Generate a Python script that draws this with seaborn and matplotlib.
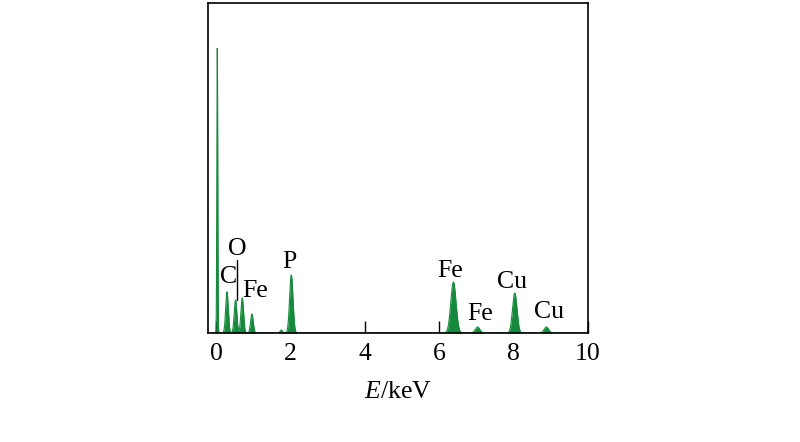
import numpy as np
import pandas as pd
import matplotlib
matplotlib.use('Agg')
import matplotlib.pyplot as plt
import seaborn as sns

# peak positions (keV), heights (a.u.), widths (keV)
peak_pos = [0.03, 0.29, 0.52, 0.70, 0.96, 1.75, 2.02, 6.38, 7.03, 8.03, 8.88]
peak_h = [285, 41, 33, 35, 19, 3, 58, 51, 6, 40, 6]
peak_w = [0.012, 0.035, 0.035, 0.035, 0.035, 0.03, 0.045, 0.07, 0.06, 0.06, 0.06]

labels = ['C', 'O', 'Fe', 'P', 'Fe', 'Fe', 'Cu', 'Cu']
label_x = [0.33, 0.57, 1.04, 1.97, 6.28, 7.1, 7.95, 8.94]
label_y = [50, 78, 36, 65, 56, 13, 45, 15]

energy = np.linspace(-0.2, 10, 6000)
counts = np.zeros_like(energy)
for p, h, w in zip(peak_pos, peak_h, peak_w):
    counts += h * np.exp(-0.5 * ((energy - p) / w) ** 2)
df = pd.DataFrame({'E': energy, 'counts': counts})

sns.set_style('ticks')
plt.rcParams['font.family'] = ['Liberation Serif', 'DejaVu Serif']
plt.rcParams['mathtext.fontset'] = 'custom'
plt.rcParams['mathtext.it'] = 'Liberation Serif:italic'
plt.rcParams['mathtext.rm'] = 'Liberation Serif'
plt.rcParams['text.color'] = 'black'
plt.rcParams['axes.labelcolor'] = 'black'
plt.rcParams['xtick.color'] = 'black'

fig = plt.figure(figsize=(8, 4.42), dpi=100)
ax = fig.add_axes([0.26, 0.2466, 0.475, 0.7464])
green = '#17893c'
sns.lineplot(data=df, x='E', y='counts', color=green, lw=0.8, ax=ax)
ax.fill_between(df['E'], 0, df['counts'], color=green, lw=0)

for t, x, y in zip(labels, label_x, label_y):
    ax.text(x, y, t, fontsize=18.5, ha='center', va='baseline', color='black')
ax.plot([0.56, 0.56], [33, 73], color='black', lw=1)

ax.set_xlim(-0.22, 9.93)
ax.set_ylim(0, 330)
ax.set_xticks([0, 2, 4, 6, 8, 10])
ax.set_xticklabels(['0', '2', '4', '6', '8', '10'], fontsize=18.5)
ax.set_yticks([])
ax.tick_params(axis='x', direction='in', length=9, width=1, pad=7)
ax.set_xlabel('$\\it{E}$/keV', fontsize=18.5, labelpad=12)
ax.set_ylabel('')
for s in ax.spines.values():
    s.set_visible(True)
    s.set_linewidth(1.2)
    s.set_color('black')

plt.savefig('out.png', dpi=100)
plt.close()
